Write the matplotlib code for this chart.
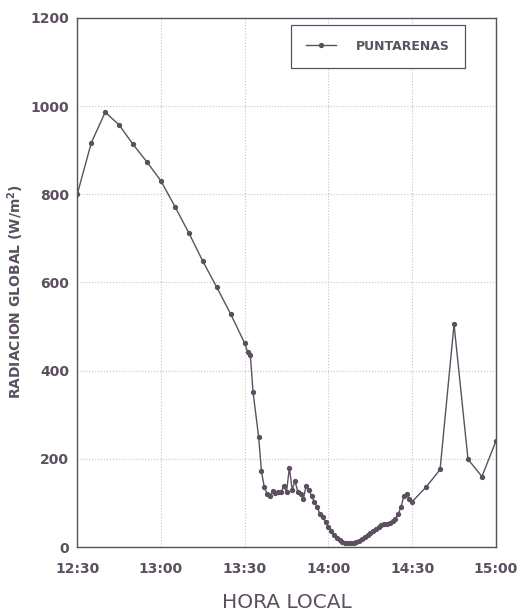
import matplotlib.pyplot as plt

# minutes after midnight (12:30 = 750) and global radiation in W/m2
minutes = [750, 755, 760, 765, 770, 775, 780, 785, 790, 795, 800, 805,
           810, 811, 812, 813, 815, 816, 817, 818, 819, 820, 821, 822,
           823, 824, 825, 826, 827, 828, 829, 830, 831, 832, 833, 834,
           835, 836, 837, 838, 839, 840, 841, 842, 843, 844, 845, 846,
           847, 848, 849, 850, 851, 852, 853, 854, 855, 856, 857, 858,
           859, 860, 861, 862, 863, 864, 865, 866, 867, 868, 869, 870,
           875, 880, 885, 890, 895, 900]
radiation = [800, 916, 986, 957, 913, 873, 830, 772, 712, 648, 589, 528,
             462, 443, 436, 351, 249, 172, 136, 121, 116, 127, 123, 124,
             124, 138, 126, 180, 130, 150, 126, 120, 108, 139, 130, 115,
             102, 90, 74, 69, 56, 46, 36, 28, 21, 16, 12, 10,
             10, 10, 10, 11, 14, 18, 23, 27, 32, 36, 41, 45,
             49, 52, 53, 55, 58, 64, 75, 91, 115, 120, 108, 103,
             136, 176, 505, 199, 160, 240]

xticks = [750, 780, 810, 840, 870, 900]
xlabels = ['12:30', '13:00', '13:30', '14:00', '14:30', '15:00']
yticks = [0, 200, 400, 600, 800, 1000, 1200]

ink = '#5c5060'

fig = plt.figure(figsize=(5.22, 6.14), dpi=100)
ax = fig.add_axes([0.148, 0.109, 0.802, 0.862])

ax.plot(minutes, radiation, color=ink, lw=1.0, marker='o', ms=2.8,
        label='PUNTARENAS')

ax.set_xlim(750, 900)
ax.set_ylim(0, 1200)
ax.set_xticks(xticks)
ax.set_xticklabels(xlabels)
ax.set_yticks(yticks)
ax.tick_params(length=0, colors=ink, labelsize=10)
ax.tick_params(axis='x', pad=11)
ax.tick_params(axis='y', pad=6)
for lab in ax.get_xticklabels() + ax.get_yticklabels():
    lab.set_fontweight('bold')

ax.grid(True, linestyle=':', color='#c4c4c4', lw=0.8)
for s in ax.spines.values():
    s.set_color(ink)
    s.set_linewidth(1.0)

ax.set_ylabel('RADIACION GLOBAL (W/m$^\\mathbf{2}$)', color=ink,
              fontsize=10, fontweight='bold')
ax.yaxis.set_label_coords(-0.122, 0.482)
ax.set_xlabel('HORA LOCAL', color=ink, fontsize=14.5, labelpad=12)

leg = ax.legend(loc='upper right', bbox_to_anchor=(0.926, 0.987),
                borderaxespad=0, fancybox=False, edgecolor=ink,
                framealpha=1, borderpad=1.2, handlelength=2.4,
                handletextpad=1.6, prop={'weight': 'bold', 'size': 9})
leg.get_frame().set_linewidth(0.9)
for t in leg.get_texts():
    t.set_color(ink)

fig.savefig('out.png', dpi=100)
